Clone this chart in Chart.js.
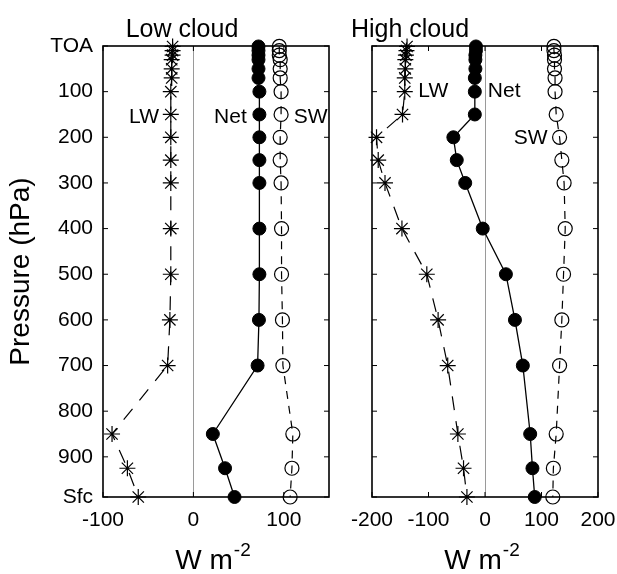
<!DOCTYPE html>
<html lang="en">
<head>
<meta charset="UTF-8">
<title>Low cloud / High cloud</title>
<script src="https://cdn.jsdelivr.net/npm/chart.js@4.4.1/dist/chart.umd.min.js"></script>
<style>
  body { margin: 0; background: #fff; }
  canvas { position: absolute; top: 0; }
</style>
</head>
<body>
<canvas id="low" width="345" height="574" style="left:0"></canvas>
<canvas id="high" width="272" height="574" style="left:345px"></canvas>
<script>
// pressure levels (hPa), last one is the surface
const levels = [1, 10, 20, 30, 50, 70, 100, 150, 200, 250, 300, 400, 500, 600, 700, 850, 925, 988];

const lwLow  = [-23, -23, -23, -24, -24, -24, -25, -25, -25, -25, -25, -25, -25, -26, -28.5, -90, -73, -61];
const netLow = [72, 72, 72, 72, 72, 72, 73, 73, 73, 73, 73, 73, 73, 72.5, 71, 21.5, 35, 45.5];
const swLow  = [95, 95, 95, 96, 96, 96, 97, 97, 96, 96, 97, 97.5, 97.5, 98.5, 99, 110, 109, 107];

const lwHigh  = [-138, -139, -140, -141, -141, -142, -142, -146, -192, -189, -177, -147, -103, -83, -66, -48, -38, -32];
const netHigh = [-16, -16, -17, -17, -17, -18, -18, -18, -56, -50, -35, -4, 37, 53, 67, 80, 84, 88];
const swHigh  = [122, 122, 123, 123, 123, 124, 124, 126, 132, 136, 140, 142, 139, 136, 132, 126, 121, 120];

const yTicks = [0, 100, 200, 300, 400, 500, 600, 700, 800, 900, 988];
const yTickLabels = ['TOA', '100', '200', '300', '400', '500', '600', '700', '800', '900', 'Sfc'];
const xTicksLow = [-100, 0, 100];
const xTicksHigh = [-200, -100, 0, 100, 200];

Chart.defaults.font.family = "'Liberation Sans', Arial, sans-serif";
Chart.defaults.color = '#000';

function pts(xs) {
  return levels.map((p, i) => ({ x: xs[i], y: p }));
}

function datasets(lw, net, sw) {
  return [
    {
      label: 'LW', data: pts(lw), showLine: true,
      borderColor: '#000', borderWidth: 1.2, borderDash: [14, 11],
      pointStyle: 'star', pointRadius: 8, pointBorderWidth: 1.2,
      pointBorderColor: '#000', pointBackgroundColor: 'rgba(0,0,0,0)'
    },
    {
      label: 'Net', data: pts(net), showLine: true,
      borderColor: '#000', borderWidth: 1.3,
      pointStyle: 'circle', pointRadius: 6.5, pointBorderWidth: 1,
      pointBorderColor: '#000', pointBackgroundColor: '#000'
    },
    {
      label: 'SW', data: pts(sw), showLine: true,
      borderColor: '#000', borderWidth: 1.2, borderDash: [8, 7],
      pointStyle: 'circle', pointRadius: 7, pointBorderWidth: 1.2,
      pointBorderColor: '#000', pointBackgroundColor: 'rgba(0,0,0,0)'
    }
  ];
}

// frame with inward ticks, panel title, x title, series labels
function panelPlugin(cfg) {
  return {
    id: 'panel',
    beforeDatasetsDraw(chart) {
      const { ctx, chartArea: a, scales: { x, y } } = chart;
      ctx.save();
      ctx.strokeStyle = '#000';
      ctx.lineWidth = 1;
      ctx.beginPath();
      x.ticks.forEach(t => {
        const px = x.getPixelForValue(t.value);
        ctx.moveTo(px, a.bottom); ctx.lineTo(px, a.bottom - 5);
        ctx.moveTo(px, a.top); ctx.lineTo(px, a.top + 5);
      });
      y.ticks.forEach(t => {
        const py = y.getPixelForValue(t.value);
        ctx.moveTo(a.left, py); ctx.lineTo(a.left + 5, py);
        ctx.moveTo(a.right, py); ctx.lineTo(a.right - 5, py);
      });
      ctx.stroke();
      ctx.lineWidth = 1.6;
      ctx.strokeRect(a.left, a.top, a.right - a.left, a.bottom - a.top);
      ctx.restore();
    },
    afterDraw(chart) {
      const { ctx, chartArea: a, scales: { x, y } } = chart;
      const fam = Chart.defaults.font.family;
      ctx.save();
      ctx.fillStyle = '#000';
      // title
      ctx.font = '25px ' + fam;
      ctx.textAlign = 'center';
      ctx.textBaseline = 'alphabetic';
      ctx.fillText(cfg.title, cfg.titleX, 37);
      // x axis title W m^-2
      const cx = (a.left + a.right) / 2 - 3;
      ctx.font = '28px ' + fam;
      const w1 = ctx.measureText('W m').width;
      ctx.font = '19px ' + fam;
      const w2 = ctx.measureText('-2').width + 1;
      const x0 = cx - (w1 + w2) / 2;
      ctx.textAlign = 'left';
      ctx.font = '28px ' + fam;
      ctx.fillText('W m', x0, 569);
      ctx.font = '19px ' + fam;
      ctx.fillText('-2', x0 + w1 + 1, 556);
      // series labels
      ctx.font = '21px ' + fam;
      ctx.textBaseline = 'middle';
      cfg.labels.forEach(l => {
        ctx.textAlign = l.align;
        ctx.fillText(l.text, x.getPixelForValue(l.x), y.getPixelForValue(l.p));
      });
      ctx.restore();
    }
  };
}

function noPad(s) {
  s.paddingLeft = 0; s.paddingRight = 0; s.paddingTop = 0; s.paddingBottom = 0;
}

function makeChart(id, lw, net, sw, opts) {
  return new Chart(document.getElementById(id), {
    type: 'scatter',
    data: { datasets: datasets(lw, net, sw) },
    options: {
      responsive: false,
      animation: false,
      clip: false,
      layout: { padding: { top: 46, right: opts.padRight, left: 0, bottom: 0 } },
      plugins: { legend: { display: false }, tooltip: { enabled: false } },
      scales: {
        x: {
          type: 'linear', min: opts.xMin, max: opts.xMax,
          afterBuildTicks: s => { s.ticks = opts.xTicks.map(v => ({ value: v })); },
          afterFit: s => { s.height = 77; noPad(s); },
          ticks: { font: { size: 21 }, padding: 11, color: '#000', maxRotation: 0 },
          grid: {
            drawTicks: false,
            color: c => (c.tick && c.tick.value === 0) ? '#9a9a9a' : 'rgba(0,0,0,0)',
            lineWidth: 1
          },
          border: { display: false }
        },
        y: {
          type: 'linear', reverse: true, min: 0, max: 988,
          afterBuildTicks: s => { s.ticks = yTicks.map(v => ({ value: v })); },
          afterFit: s => { s.width = opts.yWidth; noPad(s); },
          ticks: {
            display: opts.yLabels, font: { size: 21 }, padding: 10, color: '#000',
            callback: v => yTickLabels[yTicks.indexOf(v)]
          },
          title: {
            display: opts.yLabels, text: 'Pressure (hPa)',
            font: { size: 28 }, color: '#000', padding: { top: 4, bottom: 4 }
          },
          grid: { display: false, drawTicks: false },
          border: { display: false }
        }
      }
    },
    plugins: [panelPlugin(opts)]
  });
}

makeChart('low', lwLow, netLow, swLow, {
  xMin: -100, xMax: 150, xTicks: xTicksLow,
  padRight: 16, yWidth: 103, yLabels: true,
  title: 'Low cloud', titleX: 182,
  labels: [
    { text: 'LW', x: -38, p: 155, align: 'right' },
    { text: 'Net', x: 59, p: 155, align: 'right' },
    { text: 'SW', x: 111, p: 155, align: 'left' }
  ]
});

makeChart('high', lwHigh, netHigh, swHigh, {
  xMin: -200, xMax: 200, xTicks: xTicksHigh,
  padRight: 19, yWidth: 27, yLabels: false,
  title: 'High cloud', titleX: 65,
  labels: [
    { text: 'LW', x: -118, p: 100, align: 'left' },
    { text: 'Net', x: 5, p: 100, align: 'left' },
    { text: 'SW', x: 51, p: 201, align: 'left' }
  ]
});
</script>
</body>
</html>
